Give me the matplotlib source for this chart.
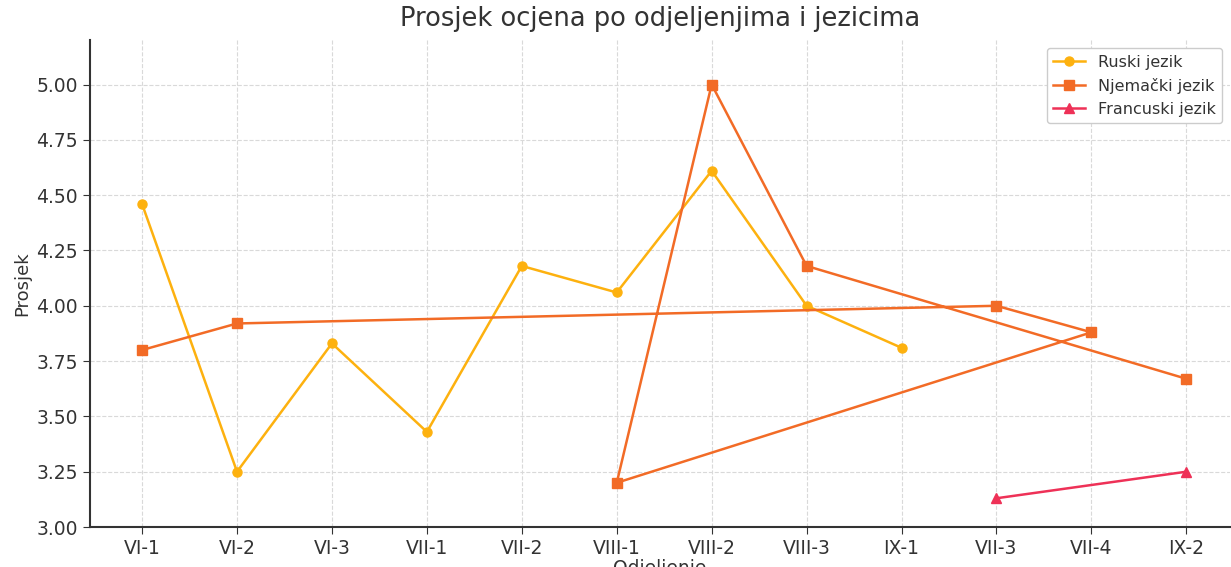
import matplotlib.pyplot as plt

# data
ruski_odj = ['VI-1', 'VI-2', 'VI-3', 'VII-1', 'VII-2', 'VIII-1', 'VIII-2', 'VIII-3', 'IX-1']
ruski_prosjek = [4.46, 3.25, 3.83, 3.43, 4.18, 4.06, 4.61, 4.00, 3.81]

njem_odj = ['VI-1', 'VI-2', 'VII-3', 'VII-4', 'VIII-1', 'VIII-2', 'VIII-3', 'IX-2']
njem_prosjek = [3.80, 3.92, 4.00, 3.88, 3.20, 5.00, 4.18, 3.67]

fran_odj = ['VII-3', 'IX-2']
fran_prosjek = [3.13, 3.25]

fig, ax = plt.subplots(figsize=(12.31, 5.67), dpi=100)
fig.subplots_adjust(left=0.073, right=0.9992, bottom=0.0705, top=0.929)

ax.plot(ruski_odj, ruski_prosjek, marker='o', color='#FDB10F', lw=1.8, ms=6.5, label='Ruski jezik')
ax.plot(njem_odj, njem_prosjek, marker='s', color='#F26B26', lw=1.8, ms=6.5, label='Njemački jezik')
ax.plot(fran_odj, fran_prosjek, marker='^', color='#EE3157', lw=1.8, ms=6.5, label='Francuski jezik')

ax.set_xlim(-0.55, 11.46)
ax.set_ylim(3.0, 5.2)
ax.set_yticks([3.00, 3.25, 3.50, 3.75, 4.00, 4.25, 4.50, 4.75, 5.00])
ax.set_yticklabels([f'{v:.2f}' for v in ax.get_yticks()])
ax.grid(True, ls='--', color='#d9d9d9', lw=0.8)
ax.set_axisbelow(True)
for s in ['top', 'right']:
    ax.spines[s].set_visible(False)
for s in ['left', 'bottom']:
    ax.spines[s].set_color('#333333')
    ax.spines[s].set_linewidth(1.5)
ax.tick_params(labelsize=13.5, colors='#333333', length=5)

ax.set_title('Prosjek ocjena po odjeljenjima i jezicima', fontsize=18.5, color='#333333', pad=10)
ax.set_xlabel('Odjeljenje', fontsize=13.5, color='#333333', labelpad=1)
ax.set_ylabel('Prosjek', fontsize=13, color='#333333')
ax.legend(loc='upper right', fontsize=11.5, framealpha=1, edgecolor='#cccccc',
          labelcolor='#333333')

plt.savefig('out.png')
